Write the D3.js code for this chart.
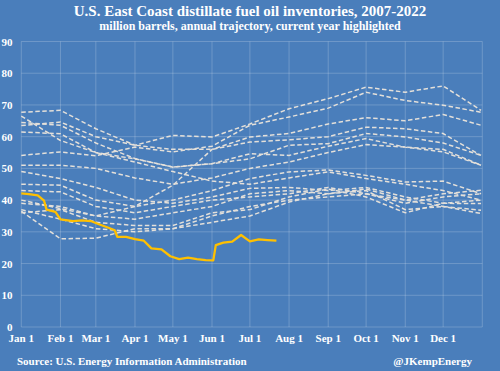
<!DOCTYPE html>
<html>
<head>
<meta charset="utf-8">
<script src="https://cdn.jsdelivr.net/npm/d3@7"></script>
<style>
  body { margin: 0; background: #4a7ebb; }
  text { font-family: "Liberation Serif", "DejaVu Serif", serif; font-weight: bold; fill: #fff; }
</style>
</head>
<body>
<svg id="chart" width="500" height="371"></svg>
<script>
// calendar points the past years are read at (1st of each month + year end)
const monthDates = ["2022-01-01", "2022-02-01", "2022-03-01", "2022-04-01", "2022-05-01", "2022-06-01",
  "2022-07-01", "2022-08-01", "2022-09-01", "2022-10-01", "2022-11-01", "2022-12-01", "2022-12-31"];

// million barrels
const y2007 = [66.5, 58.8, 55.0, 52.0, 49.0, 46.0, 45.0, 47.0, 48.9, 46.8, 45.0, 43.0, 40.0];
const y2008 = [39.0, 38.0, 35.0, 34.0, 36.0, 38.0, 42.0, 43.0, 42.0, 43.5, 40.0, 38.0, 35.8];
const y2009 = [54.1, 55.2, 54.0, 56.7, 55.2, 57.0, 63.6, 66.2, 69.0, 74.0, 71.4, 69.9, 67.7];
const y2010 = [67.7, 68.3, 62.5, 57.3, 60.4, 59.9, 64.0, 68.8, 72.0, 75.6, 74.0, 76.0, 68.3];
const y2011 = [64.5, 63.6, 58.0, 53.1, 50.4, 51.5, 53.0, 57.3, 57.8, 61.0, 59.9, 58.0, 54.1];
const y2012 = [49.0, 46.8, 44.0, 40.0, 39.0, 41.0, 43.7, 44.0, 43.0, 44.0, 41.0, 39.0, 40.0];
const y2013 = [43.0, 42.6, 38.0, 36.0, 38.0, 40.0, 41.0, 42.0, 44.0, 42.0, 40.0, 42.0, 43.1];
const y2014 = [36.5, 27.8, 28.0, 31.0, 31.0, 33.0, 35.0, 39.4, 42.0, 43.0, 37.0, 38.0, 36.8];
const y2015 = [45.0, 44.7, 40.0, 38.0, 40.0, 43.0, 46.8, 48.9, 49.5, 47.8, 45.7, 46.0, 42.0];
const y2016 = [63.5, 64.6, 60.0, 57.3, 56.0, 56.0, 58.3, 59.0, 60.0, 63.0, 62.5, 61.0, 54.1];
const y2017 = [51.0, 51.0, 50.0, 47.0, 45.0, 47.0, 50.0, 52.0, 55.0, 57.5, 56.7, 56.0, 51.0];
const y2018 = [37.0, 34.0, 31.0, 30.0, 31.0, 35.0, 38.0, 40.0, 41.0, 42.0, 39.0, 41.0, 42.0];
const y2019 = [36.0, 37.0, 33.0, 32.0, 32.0, 36.0, 37.0, 41.0, 43.5, 41.0, 36.0, 39.0, 38.9];
const y2020 = [40.0, 37.3, 35.0, 38.0, 44.7, 56.0, 59.9, 61.0, 64.0, 66.0, 65.0, 67.0, 63.6];
const y2021 = [61.5, 60.9, 55.0, 53.0, 50.4, 51.5, 54.6, 54.1, 57.0, 59.4, 56.7, 55.2, 51.0];
const pastYears = [y2007, y2008, y2009, y2010, y2011, y2012, y2013, y2014,
  y2015, y2016, y2017, y2018, y2019, y2020, y2021];

// current year, weekly
const dates2022 = ["2022-01-01", "2022-01-07", "2022-01-14", "2022-01-19", "2022-01-21", "2022-01-28",
  "2022-02-01", "2022-02-11", "2022-02-18", "2022-02-25", "2022-03-04", "2022-03-11", "2022-03-16",
  "2022-03-18", "2022-03-25", "2022-04-01", "2022-04-08", "2022-04-14", "2022-04-22", "2022-04-29",
  "2022-05-06", "2022-05-13", "2022-05-20", "2022-05-27", "2022-06-02", "2022-06-04", "2022-06-10",
  "2022-06-17", "2022-06-24", "2022-07-01", "2022-07-08", "2022-07-15", "2022-07-22"];
const y2022 = [42.1, 41.9, 41.5, 39.8, 37.0, 36.3,
  33.9, 33.4, 33.6, 33.4, 32.3, 31.3, 30.5,
  28.4, 28.4, 27.7, 27.2, 24.8, 24.5, 22.3,
  21.4, 21.9, 21.4, 21.1, 21.0, 25.8, 26.6,
  26.9, 29.0, 27.0, 27.6, 27.4, 27.2];

const monthLabels = ["Jan 1", "Feb 1", "Mar 1", "Apr 1", "May 1", "Jun 1",
  "Jul 1", "Aug 1", "Sep 1", "Oct 1", "Nov 1", "Dec 1"];
const yTicks = [0, 10, 20, 30, 40, 50, 60, 70, 80, 90];

const parse = d3.timeParse("%Y-%m-%d");
const svg = d3.select("svg#chart");

const xScale = d3.scaleTime()
  .domain([parse("2022-01-01"), parse("2023-01-01")])
  .range([21.3, 482.3]);
const yScale = d3.scaleLinear().domain([0, 90]).range([327, 41.5]);

// title
svg.append("text").attr("x", 250).attr("y", 16).attr("text-anchor", "middle")
  .style("font-size", "15px")
  .text("U.S. East Coast distillate fuel oil inventories, 2007-2022");
svg.append("text").attr("x", 250).attr("y", 30).attr("text-anchor", "middle")
  .style("font-size", "12px")
  .text("million barrels, annual trajectory, current year highlighted");

// grid
const grid = svg.append("g").attr("stroke", "#ffffff").attr("stroke-opacity", 0.2)
  .attr("stroke-width", 1);
const monthTicks = d3.timeMonth.range(parse("2022-01-01"), parse("2023-01-02"));
grid.selectAll("line.v").data(monthTicks).enter().append("line")
  .attr("x1", (d) => xScale(d)).attr("x2", (d) => xScale(d))
  .attr("y1", yScale(0)).attr("y2", yScale(90));
grid.selectAll("line.h").data(yTicks).enter().append("line")
  .attr("x1", xScale.range()[0]).attr("x2", xScale.range()[1])
  .attr("y1", (d) => yScale(d)).attr("y2", (d) => yScale(d));

// axis labels
svg.selectAll("text.ylab").data(yTicks).enter().append("text")
  .attr("x", 12.5).attr("y", (d) => yScale(d) + 4)
  .attr("text-anchor", "end").style("font-size", "11px")
  .text((d) => d);
svg.selectAll("text.xlab").data(monthLabels).enter().append("text")
  .attr("x", (d, i) => xScale(monthTicks[i])).attr("y", 342)
  .attr("text-anchor", "middle").style("font-size", "11px")
  .text((d) => d);

// past years
const line = d3.line()
  .x((d) => xScale(d[0]))
  .y((d) => yScale(d[1]));
const monthParsed = monthDates.map(parse);
svg.append("g").selectAll("path").data(pastYears).enter().append("path")
  .attr("d", (vals) => line(vals.map((v, i) => [monthParsed[i], v])))
  .attr("fill", "none")
  .attr("stroke", "#e4e0da")
  .attr("stroke-width", 1.5)
  .attr("stroke-dasharray", "4.5,2.5");

// current year
svg.append("path")
  .attr("d", line(y2022.map((v, i) => [parse(dates2022[i]), v])))
  .attr("fill", "none")
  .attr("stroke", "#ffc000")
  .attr("stroke-width", 2.3)
  .attr("stroke-linejoin", "round");

// footer
svg.append("text").attr("x", 17).attr("y", 365).style("font-size", "11px")
  .text("Source: U.S. Energy Information Administration");
svg.append("text").attr("x", 472).attr("y", 365).attr("text-anchor", "end")
  .style("font-size", "11px")
  .text("@JKempEnergy");
</script>
</body>
</html>
